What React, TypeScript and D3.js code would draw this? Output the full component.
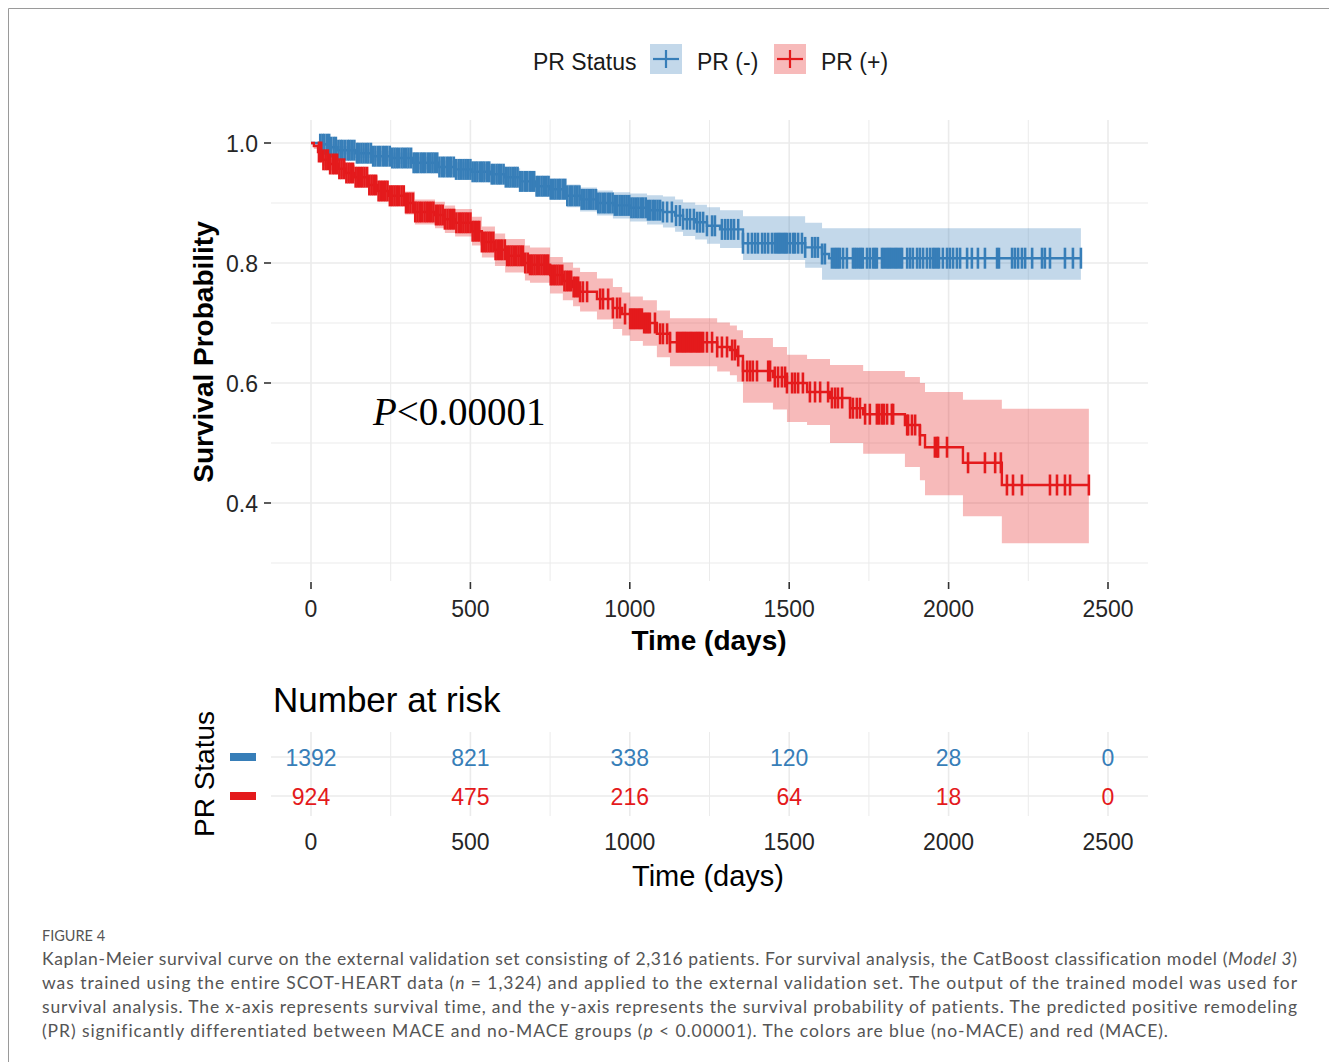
import React from 'react';
import * as d3 from 'd3';

const groupLabels = ['PR (-)', 'PR (+)'];
const groupColors = ['#377EB8', '#E41A1C'];
const groupFills = ['rgba(55,126,184,0.3)', 'rgba(228,26,28,0.3)'];

// PR (-) Kaplan-Meier steps (time in days)
const blueTime = [0, 28, 60, 85, 138, 191, 254, 317, 398, 452, 505, 561, 609, 656, 703, 750, 803, 844, 897, 947, 1001, 1054, 1104, 1142, 1167, 1205, 1242, 1283, 1355, 1550, 1603, 1625];
const blueSurv = [1.0, 0.998, 0.993, 0.988, 0.983, 0.978, 0.975, 0.967, 0.96, 0.956, 0.952, 0.948, 0.943, 0.936, 0.928, 0.923, 0.912, 0.906, 0.9, 0.896, 0.892, 0.888, 0.885, 0.879, 0.873, 0.868, 0.862, 0.856, 0.833, 0.826, 0.815, 0.808];
const blueUpper = [1.0, 1.0, 0.998, 0.995, 0.991, 0.987, 0.984, 0.977, 0.971, 0.968, 0.965, 0.962, 0.958, 0.952, 0.945, 0.941, 0.931, 0.926, 0.921, 0.918, 0.916, 0.913, 0.911, 0.906, 0.901, 0.897, 0.893, 0.888, 0.878, 0.867, 0.858, 0.858];
const blueLower = [1.0, 0.995, 0.988, 0.981, 0.975, 0.969, 0.965, 0.956, 0.948, 0.944, 0.939, 0.934, 0.928, 0.92, 0.911, 0.905, 0.893, 0.886, 0.879, 0.874, 0.869, 0.864, 0.859, 0.852, 0.845, 0.839, 0.832, 0.825, 0.805, 0.792, 0.772, 0.772];
const blueEnd = 2415;

// PR (+) Kaplan-Meier steps
const redTime = [0, 9, 22, 35, 60, 85, 110, 138, 179, 210, 242, 295, 326, 389, 420, 452, 505, 536, 577, 609, 671, 687, 750, 790, 822, 844, 897, 947, 976, 1001, 1041, 1085, 1126, 1274, 1314, 1336, 1355, 1449, 1493, 1556, 1628, 1691, 1732, 1863, 1910, 1926, 2045, 2167];
const redSurv = [1.0, 0.995, 0.985, 0.972, 0.965, 0.957, 0.95, 0.943, 0.93, 0.92, 0.912, 0.9, 0.885, 0.88, 0.873, 0.867, 0.853, 0.835, 0.822, 0.812, 0.8, 0.797, 0.78, 0.77, 0.76, 0.752, 0.74, 0.725, 0.715, 0.707, 0.7, 0.682, 0.668, 0.66, 0.655, 0.645, 0.62, 0.61, 0.6, 0.585, 0.575, 0.558, 0.548, 0.53, 0.513, 0.493, 0.467, 0.43];
const redUpper = [1.0, 1.0, 0.993, 0.982, 0.976, 0.969, 0.963, 0.957, 0.946, 0.937, 0.93, 0.919, 0.906, 0.902, 0.896, 0.89, 0.877, 0.861, 0.849, 0.84, 0.829, 0.826, 0.81, 0.801, 0.792, 0.785, 0.774, 0.76, 0.751, 0.744, 0.738, 0.721, 0.708, 0.701, 0.696, 0.688, 0.675, 0.66, 0.647, 0.64, 0.63, 0.63, 0.62, 0.61, 0.6, 0.585, 0.572, 0.557];
const redLower = [1.0, 0.99, 0.977, 0.962, 0.954, 0.945, 0.937, 0.929, 0.914, 0.903, 0.894, 0.881, 0.864, 0.858, 0.85, 0.844, 0.829, 0.809, 0.795, 0.784, 0.771, 0.767, 0.749, 0.738, 0.728, 0.719, 0.706, 0.69, 0.679, 0.67, 0.662, 0.643, 0.628, 0.619, 0.613, 0.602, 0.567, 0.556, 0.535, 0.53, 0.5, 0.5, 0.482, 0.46, 0.438, 0.413, 0.378, 0.333];
const redEnd = 2440;

const blueCensor = [29, 36, 42, 50, 57, 63, 71, 78, 86, 93, 99, 107, 115, 121, 128, 136, 144, 150, 158, 165, 173, 180, 188, 195, 202, 210, 217, 225, 232, 239, 247, 255, 262, 269, 276, 284, 291, 299, 306, 314, 322, 329, 336, 344, 351, 358, 366, 374, 381, 388, 396, 403, 411, 418, 426, 433, 440, 448, 455, 463, 470, 478, 485, 492, 500, 507, 515, 522, 530, 537, 544, 552, 559, 567, 574, 582, 589, 596, 604, 611, 619, 626, 634, 641, 648, 656, 663, 671, 678, 686, 693, 700, 708, 715, 723, 730, 738, 745, 752, 760, 767, 775, 782, 790, 797, 804, 812, 819, 827, 834, 842, 849, 856, 864, 871, 879, 886, 894, 901, 908, 916, 923, 931, 938, 946, 953, 960, 968, 975, 983, 990, 998, 1005, 1012, 1020, 1027, 1035, 1042, 1050, 1057, 1064, 1072, 1079, 1087, 1095, 1104, 1117, 1132, 1145, 1157, 1167, 1179, 1189, 1201, 1211, 1220, 1230, 1242, 1258, 1267, 1289, 1299, 1308, 1318, 1327, 1340, 1355, 1371, 1383, 1393, 1402, 1415, 1424, 1434, 1446, 1455, 1462, 1468, 1474, 1481, 1487, 1493, 1502, 1512, 1518, 1528, 1540, 1550, 1572, 1581, 1590, 1603, 1612, 1634, 1641, 1647, 1653, 1659, 1669, 1681, 1700, 1706, 1712, 1719, 1725, 1731, 1744, 1753, 1763, 1769, 1775, 1791, 1797, 1804, 1810, 1816, 1822, 1829, 1835, 1841, 1848, 1854, 1870, 1879, 1888, 1901, 1910, 1920, 1932, 1942, 1951, 1957, 1964, 1970, 1982, 1995, 2004, 2014, 2026, 2036, 2058, 2073, 2092, 2114, 2152, 2158, 2199, 2208, 2218, 2230, 2240, 2262, 2293, 2302, 2318, 2365, 2390, 2415];
const redCensor = [25, 32, 39, 46, 53, 60, 68, 75, 82, 89, 96, 104, 111, 118, 125, 132, 140, 147, 154, 161, 168, 176, 183, 190, 197, 204, 212, 219, 226, 233, 240, 248, 255, 262, 269, 276, 284, 291, 298, 305, 312, 320, 327, 334, 341, 348, 356, 363, 370, 377, 384, 392, 399, 406, 413, 420, 428, 435, 442, 449, 456, 464, 471, 478, 485, 492, 500, 507, 514, 521, 528, 536, 543, 550, 557, 564, 572, 579, 586, 593, 600, 608, 615, 622, 629, 636, 644, 651, 658, 665, 672, 680, 687, 694, 701, 708, 716, 723, 730, 737, 744, 752, 759, 766, 773, 780, 788, 795, 802, 809, 816, 824, 831, 838, 844, 853, 866, 907, 916, 932, 947, 960, 969, 985, 1001, 1007, 1013, 1019, 1026, 1032, 1038, 1045, 1051, 1057, 1063, 1079, 1095, 1104, 1117, 1126, 1148, 1154, 1161, 1167, 1173, 1179, 1186, 1192, 1198, 1205, 1211, 1217, 1223, 1230, 1242, 1258, 1274, 1289, 1305, 1321, 1330, 1340, 1355, 1368, 1377, 1386, 1399, 1434, 1440, 1455, 1465, 1477, 1487, 1493, 1509, 1518, 1528, 1543, 1565, 1581, 1597, 1622, 1634, 1644, 1653, 1666, 1691, 1700, 1712, 1722, 1738, 1753, 1775, 1782, 1791, 1797, 1807, 1822, 1826, 1870, 1873, 1885, 1895, 1910, 1957, 1964, 1967, 1995, 2061, 2114, 2146, 2164, 2183, 2202, 2230, 2318, 2340, 2365, 2381, 2440];

const xTicks = [0, 500, 1000, 1500, 2000, 2500];
const xMinor = [250, 750, 1250, 1750, 2250];
const yTicks = [0.4, 0.6, 0.8, 1.0];
const yMinor = [0.3, 0.5, 0.7, 0.9];
const riskBlue = [1392, 821, 338, 120, 28, 0];
const riskRed = [924, 475, 216, 64, 18, 0];

const captionLines: { text: string; italic?: boolean }[][] = [
  [{ text: 'Kaplan-Meier survival curve on the external validation set consisting of 2,316 patients. For survival analysis, the CatBoost classification model (' }, { text: 'Model 3', italic: true }, { text: ')' }],
  [{ text: 'was trained using the entire SCOT-HEART data (' }, { text: 'n', italic: true }, { text: ' = 1,324) and applied to the external validation set. The output of the trained model was used for' }],
  [{ text: 'survival analysis. The x-axis represents survival time, and the y-axis represents the survival probability of patients. The predicted positive remodeling' }],
  [{ text: '(PR) significantly differentiated between MACE and no-MACE groups (' }, { text: 'p', italic: true }, { text: ' < 0.00001). The colors are blue (no-MACE) and red (MACE).' }],
];
const captionWidths = [1255, 1255, 1255, 1126];

type Pt = { t: number; s: number; u: number; l: number };

function buildCurve(time: number[], surv: number[], up: number[], lo: number[], end: number): Pt[] {
  const pts = time.map((t, i) => ({ t, s: surv[i], u: up[i], l: lo[i] }));
  const last = pts[pts.length - 1];
  pts.push({ t: end, s: last.s, u: last.u, l: last.l });
  return pts;
}

function survAt(pts: Pt[], t: number): number {
  const idx = d3.bisector((d: Pt) => d.t).right(pts, t) - 1;
  return pts[Math.max(0, idx)].s;
}

const SANS = '"Liberation Sans", Arial, Helvetica, sans-serif';
const CAP = 'Lato, "Open Sans", sans-serif';

export default function App() {
  const x = d3.scaleLinear().domain([0, 2500]).range([311, 1108]);
  const y = d3.scaleLinear().domain([0.4, 1.0]).range([503, 143]);
  const P = { l: 271, r: 1148, t: 120, b: 581 };
  const T = { t: 732, b: 816 };
  const rowY = d3.scalePoint<string>().domain(groupLabels).range([757, 796]);

  const curves = [
    buildCurve(blueTime, blueSurv, blueUpper, blueLower, blueEnd),
    buildCurve(redTime, redSurv, redUpper, redLower, redEnd),
  ];
  const censors = [blueCensor, redCensor];
  const risks = [riskBlue, riskRed];

  const line = d3.line<Pt>().x(d => x(d.t)).y(d => y(d.s)).curve(d3.curveStepAfter);
  const area = d3.area<Pt>().x(d => x(d.t)).y0(d => y(d.l)).y1(d => y(d.u)).curve(d3.curveStepAfter);

  const grid = '#EBEBEB';

  return (
    <div style={{ position: 'absolute', left: 0, top: 0 }}>
      <svg width={1329} height={1062} xmlns="http://www.w3.org/2000/svg" style={{ display: 'block', background: '#fff' }}>
        <rect x={0} y={0} width={1329} height={1062} fill="#fff" />
        {/* frame */}
        <line x1={8.5} y1={8.5} x2={1329} y2={8.5} stroke="#9a9a9a" strokeWidth={1} />
        <line x1={8.5} y1={8.5} x2={8.5} y2={1062} stroke="#9a9a9a" strokeWidth={1} />

        {/* legend */}
        <g fontFamily={SANS} fontSize={23} fill="#1a1a1a">
          <text x={533} y={70}>PR Status</text>
          {groupLabels.map((g, i) => {
            const bx = i === 0 ? 650 : 774;
            const tx = i === 0 ? 697 : 821;
            return (
              <g key={g}>
                <rect x={bx} y={44} width={32} height={30} fill={groupFills[i]} />
                <line x1={bx + 3} x2={bx + 29} y1={59} y2={59} stroke={groupColors[i]} strokeWidth={2.2} />
                <line x1={bx + 16} x2={bx + 16} y1={50} y2={68} stroke={groupColors[i]} strokeWidth={2.2} />
                <text x={tx} y={70}>{g}</text>
              </g>
            );
          })}
        </g>

        {/* main panel grid */}
        <g>
          {yMinor.map(v => (
            <line key={'ym' + v} x1={P.l} x2={P.r} y1={y(v)} y2={y(v)} stroke={grid} strokeWidth={1} />
          ))}
          {xMinor.map(v => (
            <line key={'xm' + v} x1={x(v)} x2={x(v)} y1={P.t} y2={P.b} stroke={grid} strokeWidth={1} />
          ))}
          {yTicks.map(v => (
            <line key={'yM' + v} x1={P.l} x2={P.r} y1={y(v)} y2={y(v)} stroke={grid} strokeWidth={1.6} />
          ))}
          {xTicks.map(v => (
            <line key={'xM' + v} x1={x(v)} x2={x(v)} y1={P.t} y2={P.b} stroke={grid} strokeWidth={1.6} />
          ))}
        </g>

        {/* CI bands */}
        {curves.map((c, i) => (
          <path key={'ci' + i} d={area(c) || ''} fill={groupFills[i]} stroke="none" />
        ))}
        {/* curves and censor marks */}
        {curves.map((c, i) => (
          <g key={'cv' + i}>
            <path d={line(c) || ''} fill="none" stroke={groupColors[i]} strokeWidth={2.4} />
            {censors[i].map((t, j) => {
              const cx = x(t);
              const cy = y(survAt(c, t));
              return <line key={j} x1={cx} x2={cx} y1={cy - 10.5} y2={cy + 10.5} stroke={groupColors[i]} strokeWidth={2.6} />;
            })}
          </g>
        ))}

        {/* axes */}
        <g fontFamily={SANS} fill="#262626" fontSize={23}>
          {yTicks.map(v => (
            <g key={'yt' + v}>
              <line x1={P.l - 7} x2={P.l} y1={y(v)} y2={y(v)} stroke="#333" strokeWidth={1.6} />
              <text x={P.l - 13} y={y(v) + 8.5} textAnchor="end">{v.toFixed(1)}</text>
            </g>
          ))}
          {xTicks.map(v => (
            <g key={'xt' + v}>
              <line x1={x(v)} x2={x(v)} y1={P.b + 1} y2={P.b + 8} stroke="#333" strokeWidth={1.6} />
              <text x={x(v)} y={617} textAnchor="middle">{v}</text>
            </g>
          ))}
        </g>
        <text x={709} y={650} textAnchor="middle" fontFamily={SANS} fontWeight="bold" fontSize={28} fill="#000">Time (days)</text>
        <text transform="translate(213,352) rotate(-90)" textAnchor="middle" fontFamily={SANS} fontWeight="bold" fontSize={28} fill="#000">Survival Probability</text>

        {/* p value */}
        <text x={373} y={425} fontFamily={'"Liberation Serif", "Times New Roman", serif'} fontSize={39} fill="#000">
          <tspan fontStyle="italic">P</tspan>
          <tspan>{'<0.00001'}</tspan>
        </text>

        {/* risk table */}
        <text x={273} y={712} fontFamily={SANS} fontSize={35} fill="#000">Number at risk</text>
        <g>
          {xMinor.map(v => (
            <line key={'rxm' + v} x1={x(v)} x2={x(v)} y1={T.t} y2={T.b} stroke={grid} strokeWidth={1} />
          ))}
          {xTicks.map(v => (
            <line key={'rxM' + v} x1={x(v)} x2={x(v)} y1={T.t} y2={T.b} stroke={grid} strokeWidth={1.6} />
          ))}
          {groupLabels.map(g => (
            <line key={'rh' + g} x1={P.l} x2={P.r} y1={rowY(g)} y2={rowY(g)} stroke={grid} strokeWidth={1.6} />
          ))}
        </g>
        {groupLabels.map((g, i) => (
          <g key={'rr' + g} fontFamily={SANS} fontSize={23} fill={groupColors[i]}>
            <rect x={230} y={(rowY(g) as number) - 4} width={26} height={8} fill={groupColors[i]} />
            {risks[i].map((n, j) => (
              <text key={j} x={x(xTicks[j])} y={(rowY(g) as number) + 8.5} textAnchor="middle">{n}</text>
            ))}
          </g>
        ))}
        <text transform="translate(214,774) rotate(-90)" textAnchor="middle" fontFamily={SANS} fontSize={28} fill="#000">PR Status</text>
        <g fontFamily={SANS} fontSize={23} fill="#262626">
          {xTicks.map(v => (
            <text key={'rtl' + v} x={x(v)} y={850} textAnchor="middle">{v}</text>
          ))}
        </g>
        <text x={708} y={886} textAnchor="middle" fontFamily={SANS} fontSize={29} fill="#000">Time (days)</text>

        {/* caption */}
        <g style={{ fontVariantLigatures: 'none' }}>
          <text x={42} y={941} fontFamily={CAP} fontSize={14.5} fill="#555">FIGURE 4</text>
          {captionLines.map((ln, i) => (
            <text key={'cap' + i} x={42} y={965 + i * 24} fontFamily={CAP} fontSize={17.5} fill="#555"
              textLength={captionWidths[i]} lengthAdjust="spacing">
              {ln.map((seg, k) => (
                <tspan key={k} fontStyle={seg.italic ? 'italic' : 'normal'}>{seg.text}</tspan>
              ))}
            </text>
          ))}
        </g>
      </svg>
    </div>
  );
}
